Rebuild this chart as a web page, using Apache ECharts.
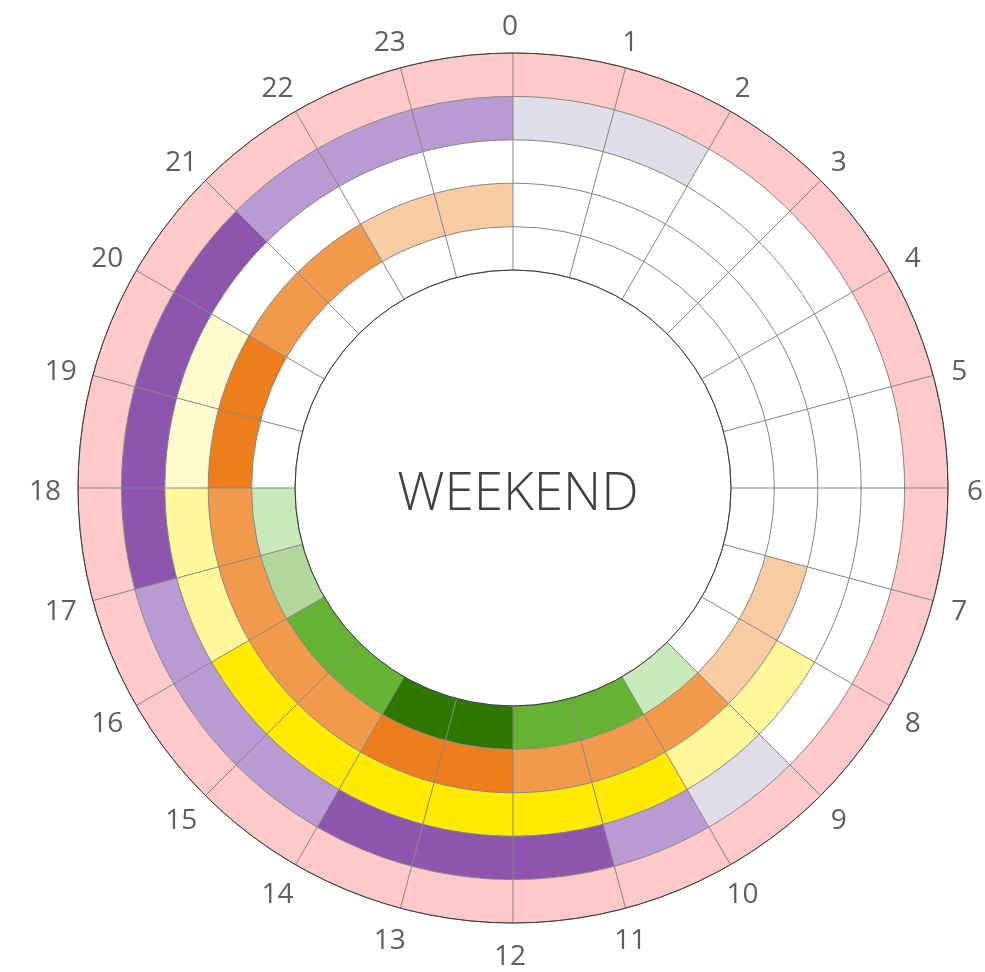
<!DOCTYPE html>
<html>
<head>
<meta charset="utf-8">
<title>WEEKEND</title>
<script src="https://cdn.jsdelivr.net/npm/echarts@6/dist/echarts.min.js"></script>
<style>
  html, body { margin: 0; padding: 0; background: #ffffff; }
  #chart { width: 985px; height: 972px; }
</style>
</head>
<body>
<div id="chart"></div>
<script>
// Hour sectors, clockwise from the top
const hours = ['0-1','1-2','2-3','3-4','4-5','5-6','6-7','7-8','8-9','9-10','10-11','11-12',
               '12-13','13-14','14-15','15-16','16-17','17-18','18-19','19-20','20-21','21-22','22-23','23-0'];
// Hour tick labels on the sector boundaries
const hourTicks = ['0','1','2','3','4','5','6','7','8','9','10','11',
                   '12','13','14','15','16','17','18','19','20','21','22','23'];

// Intensity level per hour for each ring (inner to outer), 0 = none
const greenLevels  = [0,0,0,0,0,0,0,0,0,1,3,3,4,4,3,3,2,1,0,0,0,0,0,0];
const orangeLevels = [0,0,0,0,0,0,0,1,1,2,2,2,3,3,2,2,2,2,3,3,2,2,1,1];
const yellowLevels = [0,0,0,0,0,0,0,0,2,2,3,3,3,3,3,3,2,2,1,1,0,0,0,0];
const purpleLevels = [1,1,0,0,0,0,0,0,0,1,2,3,3,3,2,2,2,3,3,3,3,2,2,2];
const pinkLevels   = [1,1,1,1,1,1,1,1,1,1,1,1,1,1,1,1,1,1,1,1,1,1,1,1];

// Colour scale of each ring, indexed by level
const greenPalette  = ['#ffffff', '#c8e9b9', '#b2d79c', '#66b334', '#2f7800'];
const orangePalette = ['#ffffff', '#f8cba3', '#f19a4b', '#ee7d1b'];
const yellowPalette = ['#ffffff', '#fffacd', '#fff799', '#ffea00'];
const purplePalette = ['#ffffff', '#e0dce8', '#b99ad3', '#8e55af'];
const pinkPalette   = ['#ffffff', '#ffc8c9'];

const rings = [
  { name: 'green',  levels: greenLevels,  palette: greenPalette },
  { name: 'orange', levels: orangeLevels, palette: orangePalette },
  { name: 'yellow', levels: yellowLevels, palette: yellowPalette },
  { name: 'purple', levels: purpleLevels, palette: purplePalette },
  { name: 'pink',   levels: pinkLevels,   palette: pinkPalette }
];

const CENTER = [513, 488];
const RADIUS = [218, 435];
const LABEL_CENTER = [510, 492];
const LABEL_RADIUS = 465;
const GRID = '#858585';

// Each ring is one stacked band of unit thickness; the level picks the cell colour
const series = rings.map(ring => ({
  name: ring.name,
  type: 'bar',
  coordinateSystem: 'polar',
  polarIndex: 0,
  stack: 'rings',
  barCategoryGap: '0%',
  silent: true,
  data: ring.levels.map(level => ({
    value: 1,
    itemStyle: { color: ring.palette[level] }
  }))
}));

// Hour numbers, centred on a circle just outside the chart
series.push({
  name: 'hourLabels',
  type: 'scatter',
  coordinateSystem: 'polar',
  polarIndex: 2,
  symbolSize: 0,
  silent: true,
  itemStyle: { opacity: 1 },
  data: hourTicks.map((t, i) => [1, i]),
  label: {
    show: true,
    position: 'inside',
    fontFamily: 'Open Sans',
    fontSize: 28,
    color: '#5f5f5f',
    textBorderWidth: 0,
    formatter: p => hourTicks[p.dataIndex]
  }
});

const chart = echarts.init(document.getElementById('chart'), null, { renderer: 'canvas' });
chart.setOption({
  animation: false,
  backgroundColor: '#ffffff',
  title: {
    text: 'WEEKEND',
    left: CENTER[0],
    top: CENTER[1] + 2,
    textAlign: 'center',
    textVerticalAlign: 'middle',
    textStyle: {
      fontFamily: 'Open Sans',
      fontWeight: 300,
      fontSize: 53,
      color: '#404040'
    }
  },
  polar: [
    { center: CENTER, radius: RADIUS },
    { center: CENTER, radius: RADIUS },
    { center: LABEL_CENTER, radius: [0, LABEL_RADIUS] }
  ],
  angleAxis: [
    {
      polarIndex: 0,
      type: 'category',
      data: hours,
      startAngle: 90,
      clockwise: true,
      boundaryGap: true,
      show: false
    },
    {
      polarIndex: 1,
      type: 'value',
      min: 0,
      max: 24,
      interval: 1,
      startAngle: 90,
      clockwise: true,
      z: 6,
      axisLine: { show: true, lineStyle: { color: '#3a3a3a', width: 1 } },
      axisTick: { show: false },
      axisLabel: { show: false },
      splitLine: { show: true, lineStyle: { color: GRID, width: 1 } }
    },
    {
      polarIndex: 2,
      type: 'value',
      min: 0,
      max: 24,
      startAngle: 90,
      clockwise: true,
      show: false
    }
  ],
  radiusAxis: [
    {
      polarIndex: 0,
      type: 'value',
      min: 0,
      max: 5,
      interval: 1,
      z: 5,
      axisLine: { show: false },
      axisTick: { show: false },
      axisLabel: { show: false },
      splitLine: { show: true, lineStyle: { color: GRID, width: 1 } }
    },
    {
      polarIndex: 1,
      type: 'value',
      min: 0,
      max: 5,
      show: false
    },
    {
      polarIndex: 2,
      type: 'value',
      min: 0,
      max: 1,
      show: false
    }
  ],
  series: series
});
</script>
</body>
</html>
